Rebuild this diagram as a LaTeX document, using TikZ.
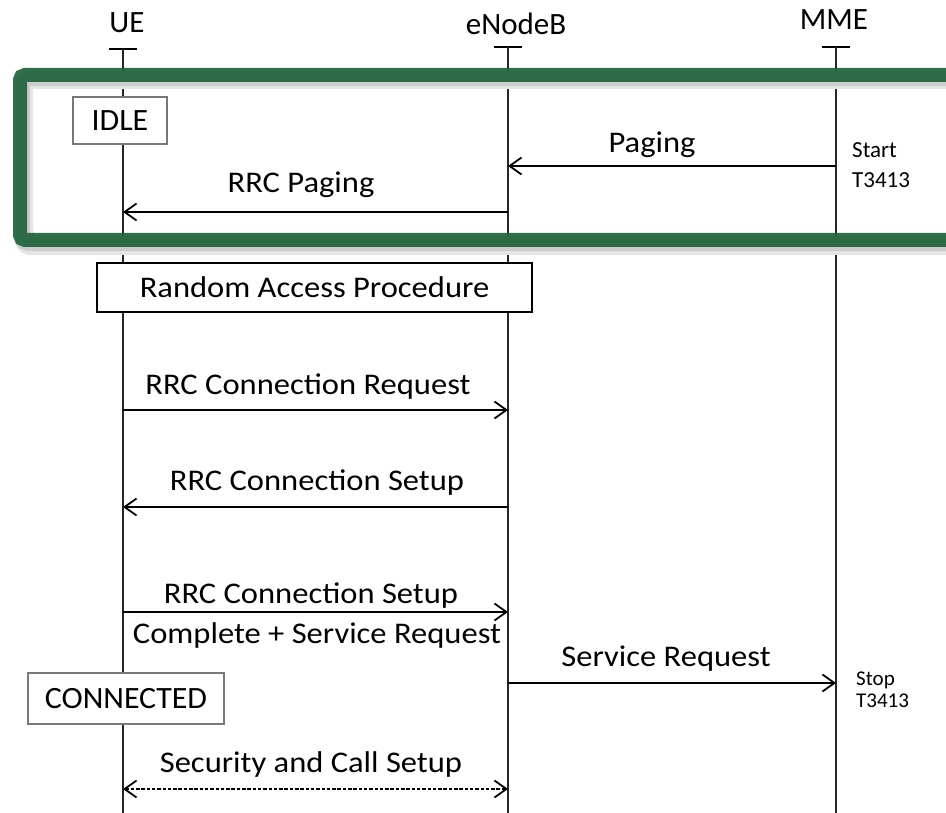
\documentclass[tikz,border=0pt]{standalone}
\usepackage{fontspec}
\setmainfont{Carlito}
\newfontfamily\lblfont{Carlito}[FakeStretch=1.085]
\newfontfamily\boxfont{Carlito}[FakeStretch=1.03]
\usetikzlibrary{arrows.meta}
\definecolor{framegreen}{RGB}{32,100,60}
\definecolor{boxgray}{RGB}{120,120,120}
\begin{document}
\begin{tikzpicture}[x=1pt,y=-1pt,
  life/.style={line width=1.4pt, black!85},
  headtick/.style={line width=2.6pt},
  msg/.style={line width=2pt, -{Straight Barb[length=12pt,width=17pt,line width=1.8pt]}},
  dmsg/.style={line width=1.8pt, dash pattern=on 3.5pt off 1.8pt,
    {Straight Barb[length=12pt,width=17pt,line width=1.8pt]}-{Straight Barb[length=12pt,width=17pt,line width=1.8pt]}},
  lbl/.style={anchor=base, inner sep=0pt, font=\lblfont\fontsize{30}{36}\selectfont},
  head/.style={anchor=base, inner sep=0pt, font=\fontsize{31}{36}\selectfont},
  timer/.style={anchor=base west, inner sep=0pt, font=\fontsize{23}{28}\selectfont},
  statebox/.style={draw=boxgray, line width=1.5pt, fill=white, inner sep=0pt,
    font=\boxfont\fontsize{31}{36}\selectfont},
  procbox/.style={draw=black, line width=1.8pt, fill=white, inner sep=0pt,
    font=\lblfont\fontsize{30}{36}\selectfont}
]
\clip (0,0) rectangle (946,813);

% entity headers
\node[head] (ueh)  at (127,33) {UE};
\node[head] (enbh) at (516,35) {eNodeB};
\node[head] (mmeh) at (834,30) {MME};

% lifeline ends
\coordinate (ueT)  at (123,49);
\coordinate (enbT) at (508,47);
\coordinate (mmeT) at (836,47);
\coordinate (ueB)  at (123,813);
\coordinate (enbB) at (508,813);
\coordinate (mmeB) at (836,813);

\draw[headtick] ([xshift=-14pt]ueT) -- ([xshift=14pt]ueT);
\draw[headtick] ([xshift=-14pt]enbT) -- ([xshift=14pt]enbT);
\draw[headtick] ([xshift=-14pt]mmeT) -- ([xshift=14pt]mmeT);

\draw[life] (ueT) -- (ueB);
\draw[life] (enbT) -- (enbB);
\draw[life] (mmeT) -- (mmeB);

% paging frame with a soft shadow
\draw[black!10, line width=18pt, rounded corners=6pt]
  (970,80) -- (24,80) -- (24,246) -- (970,246);
\draw[black!20, line width=14pt, rounded corners=5pt]
  (970,79) -- (23,79) -- (23,244) -- (970,244);
\draw[framegreen, line width=14pt, rounded corners=5pt, opacity=0.93]
  (970,75) -- (20,75) -- (20,240) -- (970,240);

% message end points on the lifelines
\coordinate (mme1) at (836,166);
\coordinate (enb1) at (508,166);
\coordinate (enb2) at (508,212);
\coordinate (ue2)  at (123,212);
\coordinate (ue3)  at (123,410);
\coordinate (enb3) at (508,410);
\coordinate (enb4) at (508,507);
\coordinate (ue4)  at (123,507);
\coordinate (ue5)  at (123,612);
\coordinate (enb5) at (508,612);
\coordinate (enb6) at (508,683);
\coordinate (mme6) at (836,683);
\coordinate (ue7)  at (123,789);
\coordinate (enb7) at (508,789);

% states and procedures
\node[statebox, minimum width=94pt, minimum height=47pt] (idle) at (120,120.5) {IDLE};
\node[procbox, minimum width=435pt, minimum height=49pt] (rap) at (314.5,287.5) {Random Access Procedure};
\node[statebox, minimum width=196pt, minimum height=51pt] (conn) at (126,698.5) {CONNECTED};

% messages
\draw[msg] (mme1) -- (enb1);
\node[lbl] (lpag) at (652,153) {Paging};
\node[timer] (tstart) at (852,158) {Start};
\node[timer] (tstart2) at (852,188) {T3413};

\draw[msg] (enb2) -- (ue2);
\node[lbl] (lrrcpag) at (301,193) {RRC Paging};

\draw[msg] (ue3) -- (enb3);
\node[lbl] (lreq) at (308,395) {RRC Connection Request};

\draw[msg] (enb4) -- (ue4);
\node[lbl] (lsetup) at (317,490) {RRC Connection Setup};

\draw[msg] (ue5) -- (enb5);
\node[lbl] (lcmp1) at (311,603) {RRC Connection Setup};
\node[lbl] (lcmp2) at (317,643) {Complete + Service Request};

\draw[msg] (enb6) -- (mme6);
\node[lbl] (lsr) at (666,666) {Service Request};
\node[timer, font=\fontsize{21}{26}\selectfont] (tstop) at (856,685) {Stop};
\node[timer, font=\fontsize{21}{26}\selectfont] (tstop2) at (856,707) {T3413};

\draw[dmsg] (ue7) -- (enb7);
\node[lbl] (lsec) at (311,772) {Security and Call Setup};
\end{tikzpicture}
\end{document}
